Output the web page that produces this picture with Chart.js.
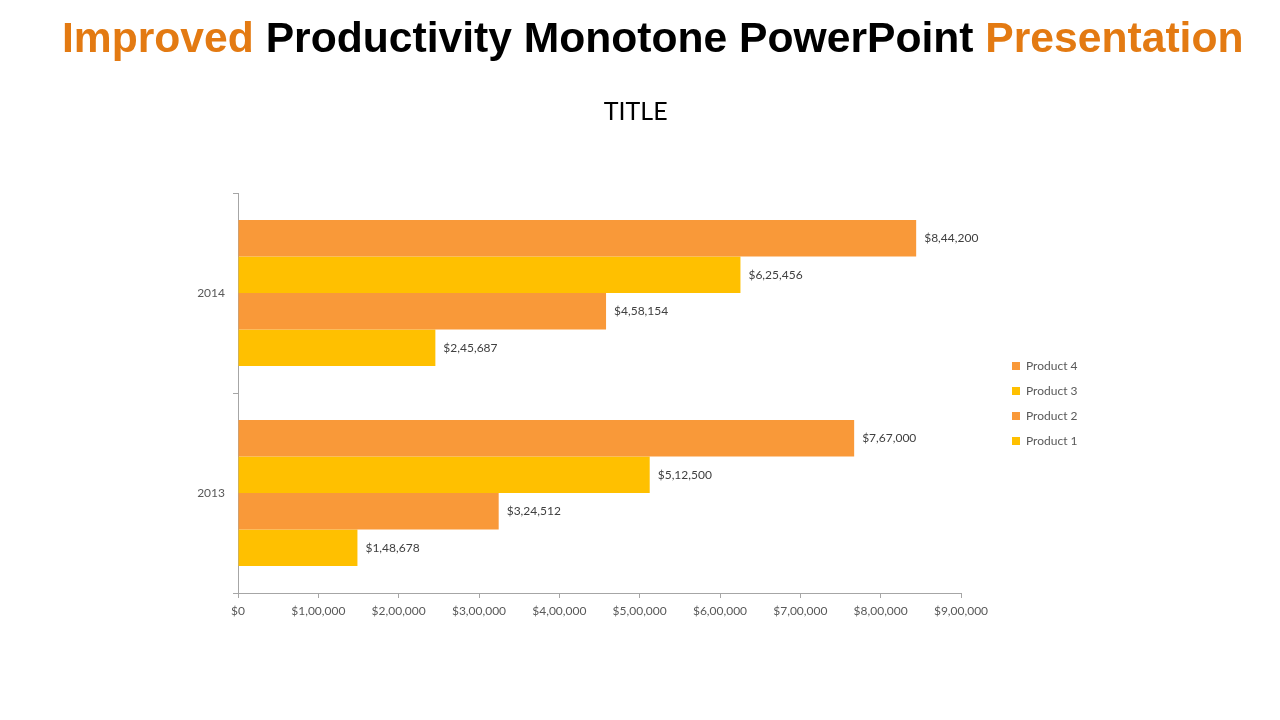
<!DOCTYPE html>
<html>
<head>
<meta charset="utf-8">
<title>Improved Productivity</title>
<script src="https://cdn.jsdelivr.net/npm/chart.js@4.4.1/dist/chart.umd.min.js"></script>
<style>
    html, body { margin: 0; padding: 0; background: #fff; }
    #page { position: relative; width: 1280px; height: 720px; overflow: hidden; }
    #header {
        position: absolute; left: 62px; top: 14px;
        font-family: "Liberation Sans", Arial, sans-serif; font-weight: bold;
        font-size: 42px; line-height: 48px; white-space: nowrap;
        color: #000; transform-origin: 0 0;
    }
    #header .hl { color: #E37A12; }
    #chart { position: absolute; left: 0; top: 0; }
</style>
</head>
<body>
<div id="page">
    <canvas id="chart" width="1280" height="720"></canvas>
    <div id="header"><span class="hl">Improved</span> Productivity Monotone PowerPoint <span class="hl">Presentation</span></div>
</div>
<script>
// Datos del gráfico
const years = ['2014', '2013'];
const product4 = [844200, 767000];
const product3 = [625456, 512500];
const product2 = [458154, 324512];
const product1 = [245687, 148678];
const axisMax = 900000;
const axisStep = 100000;

const ORANGE = '#F99939';
const YELLOW = '#FFC000';
const TEXT = '#595959';
const AXIS = '#A6A6A6';

// Ajustar el ancho del encabezado (texto algo condensado)
const header = document.getElementById('header');
header.style.transform = 'scaleX(' + (1181 / header.offsetWidth) + ')';

// Formato de moneda con agrupación india: $8,44,200
const money = (v) => {
    const s = String(Math.round(v));
    if (s.length <= 3) return '$' + s;
    const last3 = s.slice(-3);
    const rest = s.slice(0, -3).replace(/\B(?=(\d{2})+(?!\d))/g, ',');
    return '$' + rest + ',' + last3;
};

// Etiquetas de valor al final de cada barra
const valueLabels = {
    id: 'valueLabels',
    afterDatasetsDraw(chart) {
        const ctx = chart.ctx;
        ctx.save();
        ctx.font = '12px Lato';
        ctx.fillStyle = '#404040';
        ctx.textAlign = 'left';
        ctx.textBaseline = 'middle';
        chart.data.datasets.forEach((ds, i) => {
            chart.getDatasetMeta(i).data.forEach((bar, j) => {
                ctx.fillText(money(ds.data[j]), bar.x + 8, bar.y);
            });
        });
        ctx.restore();
    }
};

// Mover la leyenda y el título a su sitio
const boxShift = {
    id: 'boxShift',
    afterLayout(chart) {
        const lg = chart.legend;
        lg.left += 38; lg.right += 38;
        lg.top += 87; lg.bottom += 87;
        const tt = chart.titleBlock;
        tt.left += 22; tt.right += 22;
    }
};

const ctx = document.getElementById('chart').getContext('2d');
const chart = new Chart(ctx, {
    type: 'bar',
    data: {
        labels: years,
        datasets: [
            { label: 'Product 4', data: product4, backgroundColor: ORANGE },
            { label: 'Product 3', data: product3, backgroundColor: YELLOW },
            { label: 'Product 2', data: product2, backgroundColor: ORANGE },
            { label: 'Product 1', data: product1, backgroundColor: YELLOW }
        ]
    },
    options: {
        indexAxis: 'y',
        responsive: false,
        animation: false,
        categoryPercentage: 0.73,
        barPercentage: 1.0,
        layout: { padding: { left: 178, right: 229, top: 0, bottom: 87 } },
        plugins: {
            title: {
                display: true,
                text: 'TITLE',
                color: '#000',
                font: { family: 'Lato', size: 25, weight: 'normal' },
                padding: { top: 97, bottom: 66 }
            },
            legend: {
                position: 'right',
                align: 'center',
                labels: {
                    boxWidth: 8,
                    boxHeight: 8,
                    padding: 13,
                    color: TEXT,
                    font: { family: 'Lato', size: 12 }
                }
            },
            tooltip: { enabled: false }
        },
        scales: {
            x: {
                min: 0,
                max: axisMax,
                afterFit: (scale) => { scale.height = 40; },
                border: { color: AXIS },
                grid: { drawOnChartArea: false, color: AXIS, tickLength: 5 },
                ticks: {
                    stepSize: axisStep,
                    color: TEXT,
                    padding: 6,
                    font: { family: 'Lato', size: 12 },
                    callback: (v) => money(v)
                }
            },
            y: {
                afterFit: (scale) => { scale.width = 60; },
                border: { color: AXIS },
                grid: { drawOnChartArea: false, color: AXIS, tickLength: 5 },
                ticks: {
                    color: TEXT,
                    padding: 8,
                    font: { family: 'Lato', size: 12 }
                }
            }
        }
    },
    plugins: [valueLabels, boxShift]
});

// Ajustar el relleno derecho según el ancho real de la leyenda
chart.options.layout.padding.right = 319 - chart.legend.width;
chart.update('none');
</script>
</body>
</html>
